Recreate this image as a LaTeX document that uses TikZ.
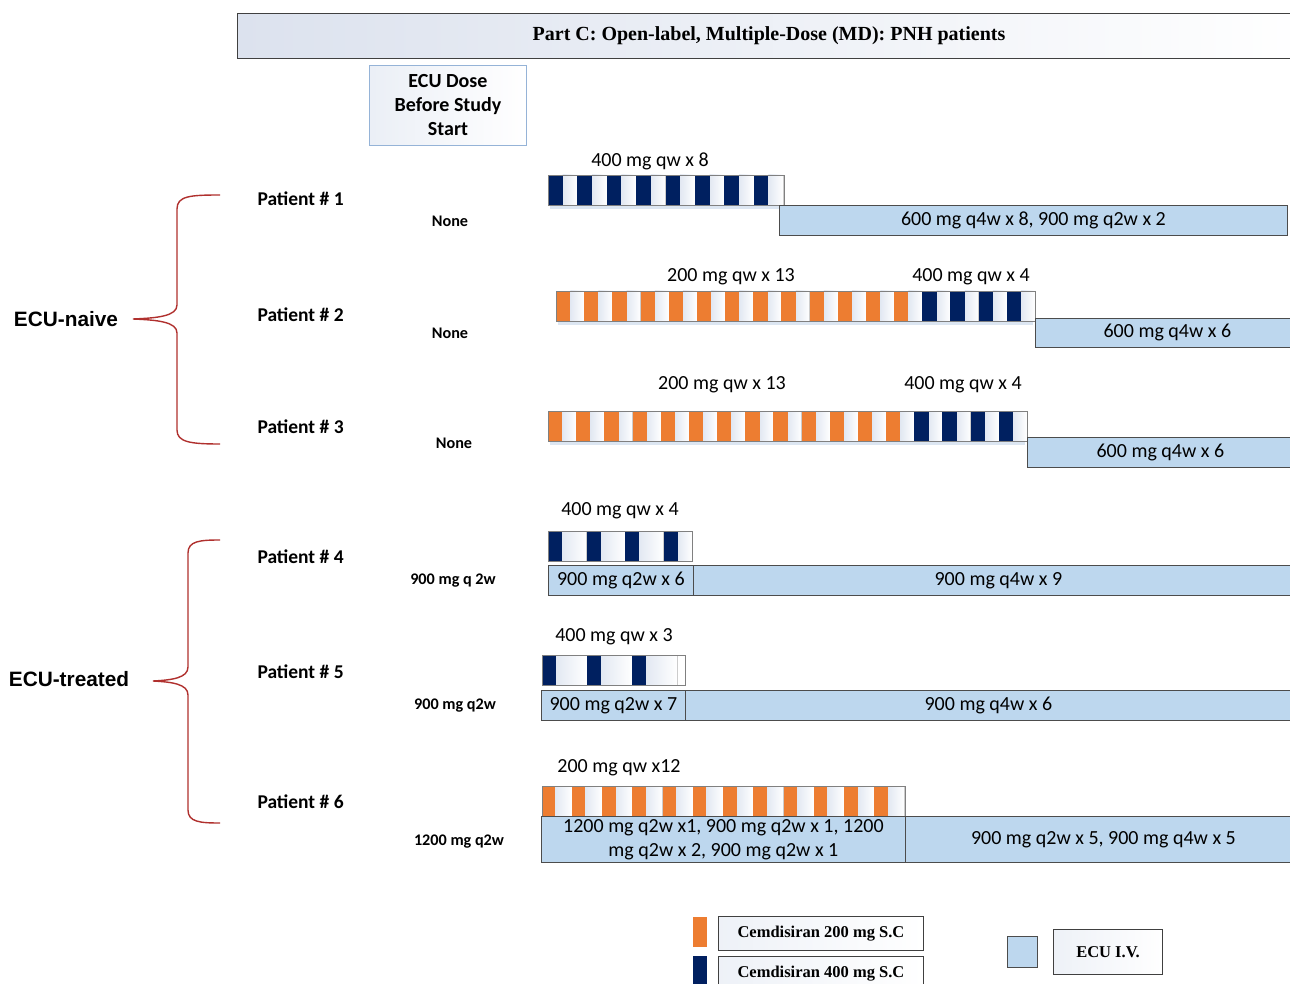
\documentclass[tikz,border=0pt]{standalone}
\usepackage{fontspec}
\setmainfont{Carlito}
\newfontfamily\tnrfont{Liberation Serif}
\newfontfamily\arlfont{Liberation Sans}
\usetikzlibrary{calc}
\definecolor{ecublue}{HTML}{BDD7EE}
\definecolor{cemorange}{HTML}{ED7D31}
\definecolor{cemnavy}{HTML}{002060}
\definecolor{lightseg}{HTML}{E2E8F2}
\definecolor{bracered}{HTML}{B0302E}
\definecolor{boxblue}{HTML}{95B3D7}
\definecolor{titleleft}{HTML}{DCE2EE}
\definecolor{shadowc}{HTML}{DCE6F2}
\newcommand\dosestripes[7]{% #1 x0, #2 ytop, #3 period, #4 count, #5 color, #6 coloured width, #7 xend
  \foreach \k in {1,...,#4}{
    \pgfmathsetmacro\xa{#1+(\k-1)*#3}
    \pgfmathsetmacro\xb{min(\xa+#3,#7)}
    \shade[left color=lightseg, right color=white] (\xa+#6,#2) rectangle (\xb,#2+30);
    \draw[gray!40, line width=0.4pt] (\xb,#2) -- (\xb,#2+30);
    \fill[#5] (\xa,#2) rectangle (\xa+#6,#2+30);
  }}
\begin{document}
\begin{tikzpicture}[x=1pt,y=-1pt,
  ecubar/.style={draw=black!70, fill=ecublue, line width=0.8pt, inner sep=0pt, anchor=north west, font=\fontsize{20}{24}\selectfont, align=center},
  stripebar/.style={draw=gray, line width=0.8pt, inner sep=0pt, anchor=north west, minimum height=30},
  lbl/.style={font=\fontsize{20}{24}\selectfont},
  patient/.style={font=\bfseries\fontsize{19.5}{22}\selectfont, anchor=west},
  dose/.style={font=\bfseries\fontsize{16.2}{18}\selectfont},
  group/.style={font=\arlfont\bfseries\fontsize{20.8}{24}\selectfont},
  brace/.style={draw=bracered, line width=1.4pt},
  legbox/.style={draw=black!75, line width=0.9pt, inner sep=0pt, anchor=north west, left color=lightseg!60, right color=white, font=\tnrfont\bfseries\fontsize{16.5}{18}\selectfont},
  swatch/.style={inner sep=0pt, anchor=north west}
]
\clip (0,0) rectangle (1290,984);
\fill[white] (0,0) rectangle (1290,984);

% title bar
\node[draw=black!75, line width=1pt, left color=titleleft, right color=white, inner sep=0pt, anchor=north west, minimum width=1070, minimum height=45] (titlebar) at (237,13) {};
\node[font=\tnrfont\bfseries\fontsize{20}{22}\selectfont] (titletext) at (769,36) {Part C: Open-label, Multiple-Dose (MD): PNH patients};

% ECU dose box
\node[draw=boxblue, line width=1pt, left color=lightseg!70, right color=white, inner sep=0pt, anchor=north west, minimum width=157, minimum height=80, align=center, font=\bfseries\fontsize{20}{24}\selectfont] (ecudose) at (369,65) {ECU Dose\\Before Study\\Start};

% group labels and braces
\node[group] (naive) at (66,319) {ECU-naive};
\node[group] (treated) at (69,679) {ECU-treated};
\coordinate (b1top) at (220,195);
\coordinate (b1tip) at (133,319);
\coordinate (b1bot) at (220,444);
\coordinate (b2top) at (220,540);
\coordinate (b2tip) at (153,681);
\coordinate (b2bot) at (220,823);
\draw[brace] (b1top) .. controls (190,195) and (177,196) .. (177,209) -- (177,305) .. controls (177,316) and (158,318) .. (b1tip) .. controls (158,320) and (177,322) .. (177,333) -- (177,430) .. controls (177,442) and (190,444) .. (b1bot);
\draw[brace] (b2top) .. controls (200,540) and (188,541) .. (188,553) -- (188,667) .. controls (188,678) and (172,680) .. (b2tip) .. controls (172,682) and (188,684) .. (188,695) -- (188,810) .. controls (188,822) and (200,823) .. (b2bot);

% patient labels
\node[patient] (p1) at (254,199) {Patient \# 1};
\node[patient] (p2) at (254,315) {Patient \# 2};
\node[patient] (p3) at (254,427) {Patient \# 3};
\node[patient] (p4) at (254,557) {Patient \# 4};
\node[patient] (p5) at (254,672) {Patient \# 5};
\node[patient] (p6) at (254,802) {Patient \# 6};

% dose before study
\node[dose] (d1) at (450,221) {None};
\node[dose] (d2) at (450,333) {None};
\node[dose] (d3) at (454,443) {None};
\node[dose] (d4) at (453,581) {900 mg q 2w};
\node[dose] (d5) at (455,706) {900 mg q2w};
\node[dose] (d6) at (459,842) {1200 mg q2w};

% ---------- Patient 1
\fill[shadowc] (550,205) rectangle (779,209);
\dosestripes{548}{175}{29.4}{8}{cemnavy}{14.6}{784}
\node[stripebar, minimum width=236] (s1) at (548,175) {};
\node[lbl] (l1) at (650,161) {400 mg qw x 8};
\node[ecubar, minimum width=508, minimum height=30] (e1) at (779,205) {600 mg q4w x 8, 900 mg q2w x 2};

% ---------- Patient 2
\fill[shadowc] (558,321) rectangle (1033,325);
\dosestripes{556}{291}{28.18}{13}{cemorange}{14.3}{1035}
\dosestripes{922.3}{291}{28.18}{4}{cemnavy}{14.3}{1035}
\node[stripebar, minimum width=479] (s2) at (556,291) {};
\node[lbl] (l2a) at (731,277) {200 mg qw x 13};
\node[lbl] (l2b) at (971,277) {400 mg qw x 4};
\node[ecubar, minimum width=270, minimum height=29] (e2) at (1035,318) {\hspace*{-6pt}600 mg q4w x 6};

% ---------- Patient 3
\fill[shadowc] (550,441) rectangle (1025,445);
\dosestripes{548}{411}{28.18}{13}{cemorange}{14.3}{1027}
\dosestripes{914.3}{411}{28.18}{4}{cemnavy}{14.3}{1027}
\node[stripebar, minimum width=479] (s3) at (548,411) {};
\node[lbl] (l3a) at (722,385) {200 mg qw x 13};
\node[lbl] (l3b) at (963,385) {400 mg qw x 4};
\node[ecubar, minimum width=278, minimum height=30] (e3) at (1027,437) {\hspace*{-12pt}600 mg q4w x 6};

% ---------- Patient 4
\dosestripes{548}{531}{38.5}{4}{cemnavy}{14}{692}
\node[stripebar, minimum width=144] (s4) at (548,531) {};
\node[lbl] (l4) at (620,511) {400 mg qw x 4};
\node[ecubar, minimum width=145, minimum height=30] (e4a) at (548,565) {900 mg q2w x 6};
\node[ecubar, minimum width=610, minimum height=30] (e4b) at (693,565) {900 mg q4w x 9};

% ---------- Patient 5
\dosestripes{541.5}{655}{45.2}{3}{cemnavy}{14}{685}
\node[stripebar, minimum width=143.5] (s5) at (541.5,655) {};
\node[lbl] (l5) at (614,637) {400 mg qw x 3};
\node[ecubar, minimum width=144, minimum height=30] (e5a) at (541,690) {900 mg q2w x 7};
\node[ecubar, minimum width=620, minimum height=30] (e5b) at (685,690) {\hspace*{-14pt}900 mg q4w x 6};

% ---------- Patient 6
\dosestripes{541.5}{786}{30.25}{12}{cemorange}{13.6}{905}
\node[stripebar, minimum width=363.5] (s6) at (541.5,786) {};
\node[lbl] (l6) at (619,768) {200 mg qw x12};
\node[ecubar, minimum width=364, minimum height=46] (e6a) at (541,816) {1200 mg q2w x1, 900 mg q2w x 1, 1200\\mg q2w x 2, 900 mg q2w x 1};
\node[ecubar, minimum width=400, minimum height=46] (e6b) at (905,816) {\hspace*{-4pt}900 mg q2w x 5, 900 mg q4w x 5};

% ---------- legend
\node[swatch, fill=cemorange, minimum width=14, minimum height=30] (sw1) at (693,917) {};
\node[legbox, minimum width=205, minimum height=34] (lg1) at (718,916) {Cemdisiran 200 mg S.C};
\node[swatch, fill=cemnavy, minimum width=14, minimum height=34] (sw2) at (693,956) {};
\node[legbox, minimum width=205, minimum height=34] (lg2) at (718,956) {Cemdisiran 400 mg S.C};
\node[swatch, draw=black!70, line width=0.9pt, fill=ecublue, minimum width=30, minimum height=31] (sw3) at (1007,936) {};
\node[legbox, minimum width=109, minimum height=45] (lg3) at (1053,929) {ECU I.V.};
\end{tikzpicture}
\end{document}
